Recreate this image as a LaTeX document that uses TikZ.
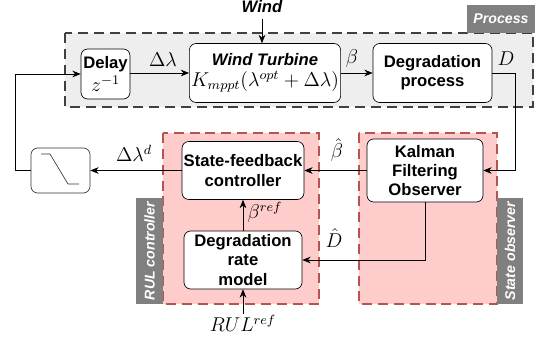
\documentclass[tikz,border=0pt]{standalone}
\usepackage{amsmath}
\usepackage{fontspec}
\setmainfont{Liberation Sans}
\usepackage{tikz}
\usetikzlibrary{positioning, arrows.meta, shapes}

\definecolor{procfill}{HTML}{EEEEEE}
\definecolor{procline}{HTML}{404040}
\definecolor{rulfill}{HTML}{FFCCCC}
\definecolor{rulline}{HTML}{B85450}
\definecolor{tagfill}{HTML}{808080}

\begin{document}
\begin{tikzpicture}[x=0.6pt, y=-0.6pt, >={Stealth[length=5pt,width=4pt]},
    blockbox/.style={shape=rectangle, draw=black, rounded corners=4pt, fill=white,
      align=center, font=\fontsize{10}{11.5}\selectfont\bfseries, inner sep=1pt},
    lbl/.style={font=\fontsize{11.5}{13}\selectfont, inner sep=0.5pt},
    tagtext/.style={text=white, font=\fontsize{8.5}{10}\selectfont\bfseries\itshape},
    region/.style={line width=1.6pt, dash pattern=on 6pt off 3.5pt}]
    \useasboundingbox (0,0) rectangle (542,340);

    % backgrounds
    \draw[region, draw=procline, fill=procfill] (65,33) rectangle (533,107);
    \fill[tagfill] (467,5) rectangle (535,33);
    \node[tagtext] (proctag) at (501,19) {Process};

    \draw[region, draw=rulline, fill=rulfill] (163,133) rectangle (319,304);
    \fill[tagfill] (136,198) rectangle (163,304);
    \node[tagtext, rotate=90] (rultag) at (149.5,251) {RUL controller};

    \draw[region, draw=rulline, fill=rulfill] (359,133) rectangle (497,304);
    \fill[tagfill] (497,198) rectangle (523,304);
    \node[tagtext, rotate=90] (obstag) at (510,251) {State observer};

    % upper loop
    \node[blockbox, minimum width=29.4pt, minimum height=30pt] (delay) at (105.5,74) {Delay\\[1pt]{\fontsize{11.5}{13}\selectfont$z^{-1}$}};
    \node[blockbox, minimum width=87.6pt, minimum height=35.4pt] (turbine) at (265,73) {\textit{Wind Turbine}\\[1pt]{\fontsize{11.5}{13}\selectfont$K_{mppt}(\lambda^{opt}+\Delta\lambda)$}};
    \node[blockbox, minimum width=71.4pt, minimum height=35.4pt] (degr) at (432.5,73) {Degradation\\process};
    \node[font=\fontsize{10}{11.5}\selectfont\bfseries\itshape] (wind) at (262,7) {Wind};

    \path [->] (wind.south) edge (wind.south |- turbine.north);
    \path [->] (delay.east |- turbine.west) edge (turbine.west);
    \node[lbl] (dl) at (163,60) {$\Delta\lambda$};
    \path [->] (turbine.east) edge (degr.west);
    \node[lbl] (b) at (352,58) {$\beta$};
    \node[lbl] (d) at (506,59) {$D$};

    % lower part
    \node[blockbox, minimum width=70.8pt, minimum height=34.8pt] (sfc) at (243,170.5) {State-feedback\\controller};
    \node[blockbox, minimum width=70.8pt, minimum height=34.8pt] (drm) at (243,260) {Degradation\\rate\\model};
    \node[blockbox, minimum width=69.6pt, minimum height=37.8pt] (kf) at (425,170.5) {Kalman\\Filtering\\Observer};
    \node[blockbox, draw=black!80, minimum width=35.4pt, minimum height=27pt] (sat) at (60.5,170.5) {};
    \draw[black!80] (41,154) -- (50,154) -- (68,184) -- (79,184);

    \draw[->] (degr.east) -- ++(23,0) |- (kf.east);
    \path [->] (kf.west) edge (sfc.east);
    \node[lbl] (bh) at (337,150) {$\hat{\beta}$};
    \draw[->] (kf.south) |- (drm.east);
    \node[lbl] (dh) at (334,238) {$\hat{D}$};
    \path [->] (drm.north) edge (sfc.south);
    \node[lbl] (bref) at (265,212) {$\beta^{ref}$};
    \node[lbl] (rul) at (243,323) {$RUL^{ref}$};
    \path [->] (rul.north) edge (drm.south);
    \path [->] (sfc.west) edge (sat.east);
    \node[lbl] (dld) at (134,153) {$\Delta\lambda^{d}$};
    \draw[->] (sat.west) -- ++(-15,0) |- (delay.west);

  \end{tikzpicture}
\end{document}
